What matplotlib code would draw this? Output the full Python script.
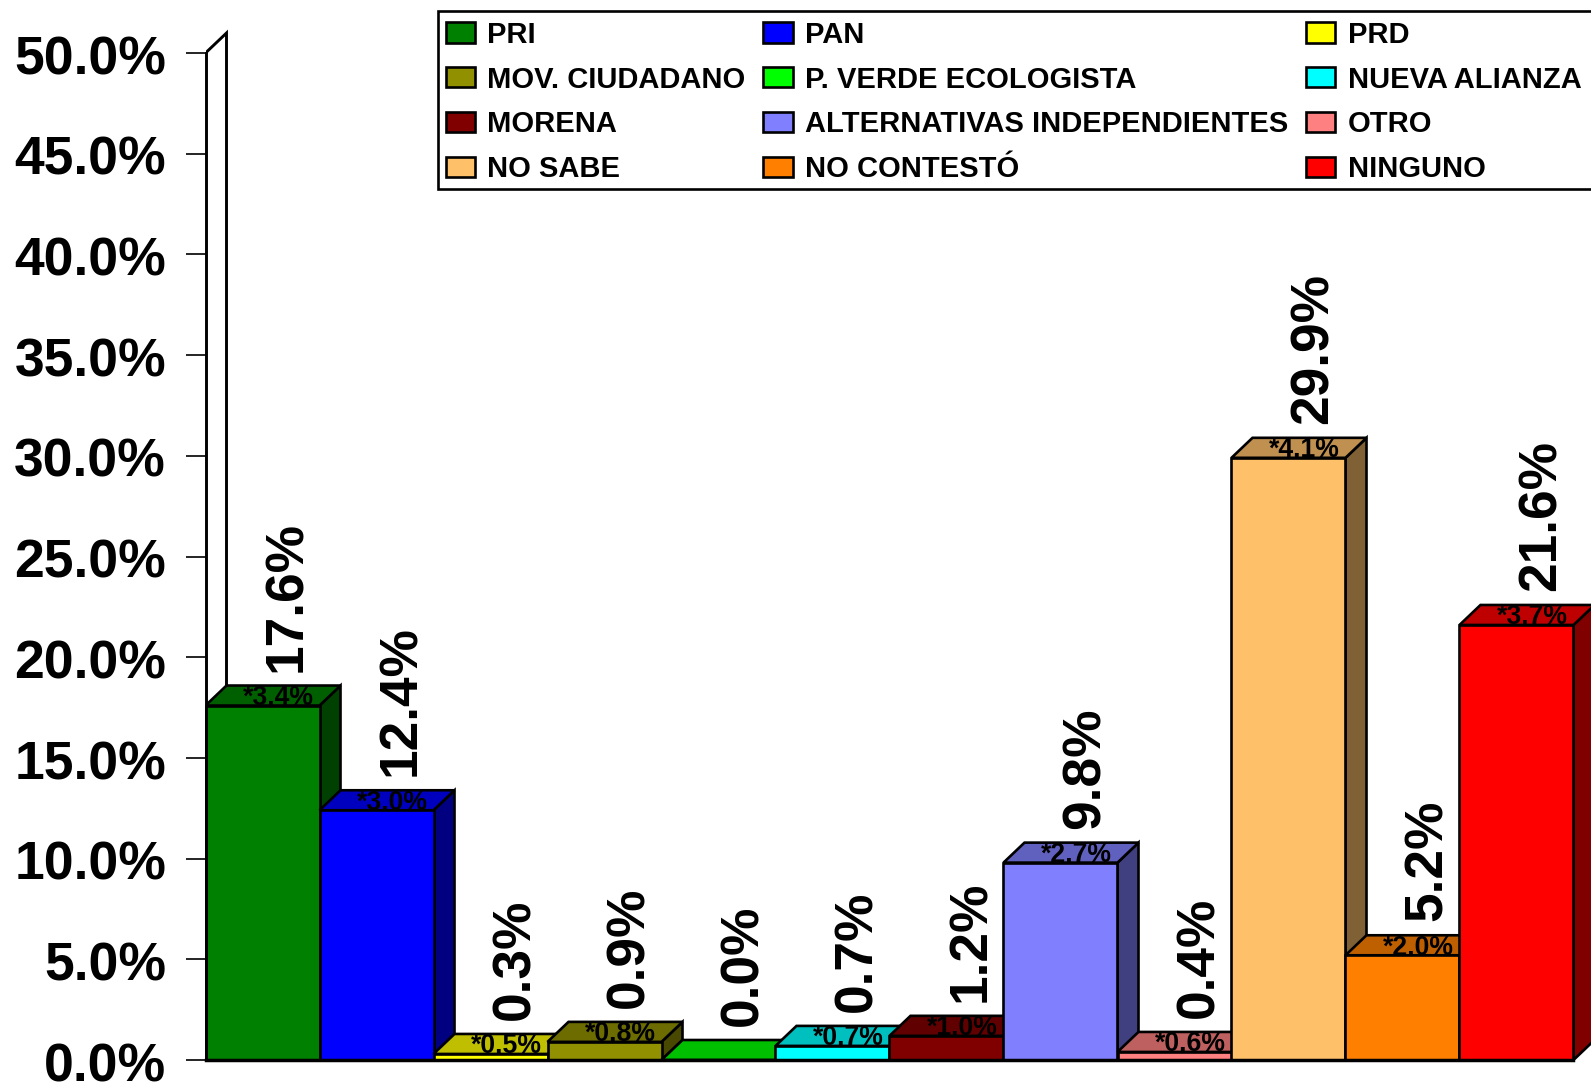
import matplotlib
matplotlib.use("Agg")
import matplotlib.pyplot as plt
from matplotlib.colors import to_rgb
from matplotlib.patches import Polygon, Rectangle
from matplotlib.transforms import ScaledTranslation

plt.rcParams["font.family"] = ["Liberation Sans", "DejaVu Sans"]
plt.rcParams["font.weight"] = "bold"

categories = ["PRI", "PAN", "PRD", "MOV. CIUDADANO", "P. VERDE ECOLOGISTA", "NUEVA ALIANZA",
              "MORENA", "ALTERNATIVAS INDEPENDIENTES", "OTRO", "NO SABE", "NO CONTESTÓ", "NINGUNO"]
values = [17.6, 12.4, 0.3, 0.9, 0.0, 0.7, 1.2, 9.8, 0.4, 29.9, 5.2, 21.6]
margins = ["*3.4%", "*3.0%", "*0.5%", "*0.8%", "", "*0.7%", "*1.0%", "*2.7%", "*0.6%", "*4.1%", "*2.0%", "*3.7%"]
colors = ["#008000", "#0000FF", "#FFFF00", "#909000", "#00FF00", "#00FFFF",
          "#800000", "#8080FF", "#FF8080", "#FFC06A", "#FF8000", "#FF0000"]
yticks = [0, 5, 10, 15, 20, 25, 30, 35, 40, 45, 50]

W, H = 1591, 1083
LEFT, BASE = 205.5, 1060
BAR_PX, PCT_PX = 114, 20.14
DX, DY = 21 / BAR_PX, 20 / PCT_PX
LW = 1.9


def shade(color, k):
    return tuple(c * k for c in to_rgb(color))


fig = plt.figure(figsize=(W / 100, H / 100), dpi=100, facecolor="white")
ax = fig.add_axes([LEFT / W, (H - BASE) / H, (W - LEFT) / W, BASE / H])
ax.set_xlim(0, (W - LEFT) / BAR_PX)
ax.set_ylim(0, BASE / PCT_PX)

# back wall
ax.plot([0, DX, DX], [50, 50 + DY, 0], color="black", lw=2.1, zorder=1, solid_joinstyle="miter")

handles = []
for i, (v, c) in enumerate(zip(values, colors)):
    z = 3 + i * 4
    side = Polygon([(i + 1, 0), (i + 1 + DX, DY), (i + 1 + DX, v + DY), (i + 1, v)],
                   facecolor=shade(c, 0.5), edgecolor="black", lw=LW, zorder=z)
    top = Polygon([(i, v), (i + DX, v + DY), (i + 1 + DX, v + DY), (i + 1, v)],
                  facecolor=shade(c, 0.75), edgecolor="black", lw=LW, zorder=z + 1)
    ax.add_patch(side)
    ax.add_patch(top)
    if margins[i]:
        ax.annotate(margins[i], xy=(i + 0.5, v), xytext=(11.2, 0.5), textcoords="offset points",
                    ha="center", va="baseline", fontsize=19.2, zorder=z + 2)
    bar = ax.bar(i + 0.5, v, width=1, color=c, edgecolor="black", lw=LW, zorder=z + 3,
                 label=categories[i], clip_on=False)
    handles.append(bar)
    ax.annotate(f"{v:.1f}%", xy=(i + 0.5, v), xytext=(18, 24.5), textcoords="offset points",
                rotation=90, ha="center", va="bottom", fontsize=38.3, zorder=90)

for name in ["top", "right"]:
    ax.spines[name].set_visible(False)
ax.spines["left"].set_bounds(0, 50)
ax.spines["left"].set_linewidth(2.1)
ax.spines["left"].set_zorder(80)
ax.spines["bottom"].set_bounds(0, len(values))
ax.spines["bottom"].set_linewidth(2.5)
ax.spines["bottom"].set_zorder(80)
ax.set_xticks([])
ax.set_yticks(yticks)
ax.set_yticklabels([f"{t:.1f}%" for t in yticks], fontsize=38.5, fontweight="bold")
ax.tick_params(axis="y", length=14.4, width=1.2, pad=14)
nudge = ScaledTranslation(0, -1.2 / 72, fig.dpi_scale_trans)
for lab in ax.get_yticklabels():
    lab.set_transform(lab.get_transform() + nudge)
ax.patch.set_alpha(0)

# legend frame runs off the right edge and sits tighter than the legend's own box
fig.add_artist(Rectangle((438 / W, 1 - 189 / H), (W + 20 - 438) / W, 178 / H, transform=fig.transFigure,
                         facecolor="white", edgecolor="black", lw=1.9, zorder=99))

# legend fills by column, the reference reads by row
order = [r * 3 + c for c in range(3) for r in range(4)]
leg = fig.legend([handles[k] for k in order], [categories[k] for k in order], ncol=3,
                 loc="upper left", bbox_to_anchor=(436 / W, 1 - 11 / H), borderaxespad=0,
                 fontsize=21, handlelength=1.0, handleheight=0.69, handletextpad=0.42,
                 columnspacing=0.62, labelspacing=0.58, borderpad=0.33, frameon=False)
leg.set_zorder(100)

fig.savefig("out.png", dpi=100)
